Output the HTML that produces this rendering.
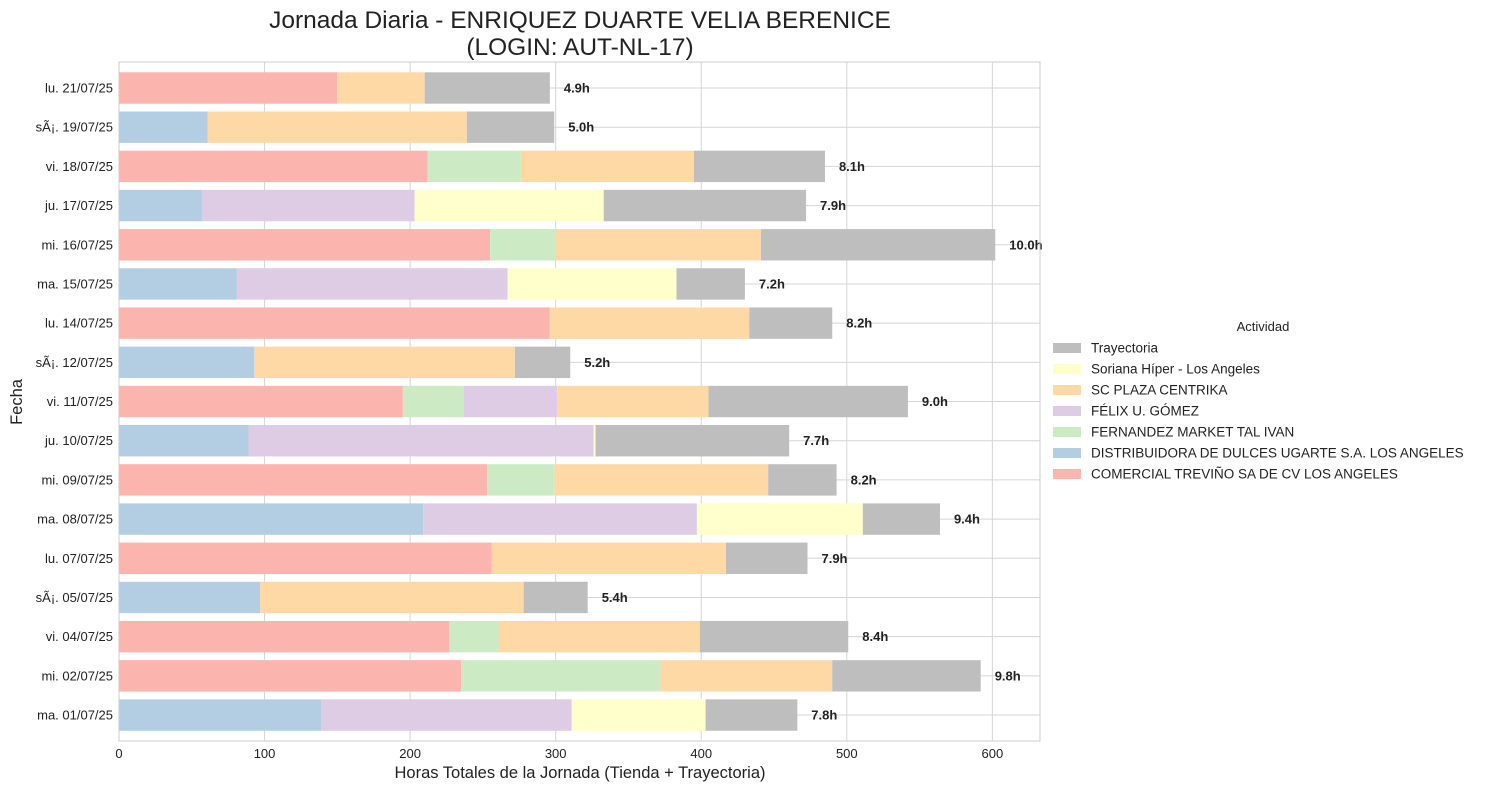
<!DOCTYPE html>
<html><head><meta charset="utf-8"><style>
body{margin:0;background:#fff;}
svg{font-family:"Liberation Sans","DejaVu Sans",sans-serif;}
</style></head><body>
<svg id="chart" width="1489" height="790" xmlns="http://www.w3.org/2000/svg">
<text x="580" y="28" font-size="24.5" text-anchor="middle" fill="#222">Jornada Diaria - ENRIQUEZ DUARTE VELIA BERENICE</text>
<text x="580" y="55" font-size="24.5" text-anchor="middle" fill="#222">(LOGIN: AUT-NL-17)</text>
<g id="grid"></g><g id="bars"></g><g id="axes"></g>
<text x="580" y="778" font-size="16.5" text-anchor="middle" fill="#222">Horas Totales de la Jornada (Tienda + Trayectoria)</text>
<text x="22" y="402" font-size="16.5" text-anchor="middle" fill="#222" transform="rotate(-90 22 402)">Fecha</text>
<g id="legend"></g>
</svg>
<script>
const categories=["lu. 21/07/25","sÃ¡. 19/07/25","vi. 18/07/25","ju. 17/07/25","mi. 16/07/25","ma. 15/07/25","lu. 14/07/25","sÃ¡. 12/07/25","vi. 11/07/25","ju. 10/07/25","mi. 09/07/25","ma. 08/07/25","lu. 07/07/25","sÃ¡. 05/07/25","vi. 04/07/25","mi. 02/07/25","ma. 01/07/25"];
const comercial=[150,0,212,0,255,0,296,0,195,0,253,0,256,0,227,235,0];
const distribuidora=[0,61,0,57,0,81,0,93,0,89,0,209,0,97,0,0,139];
const fernandez=[0,0,64,0,45,0,0,0,42,0,46,0,0,0,34,137,0];
const felix=[0,0,0,146,0,186,0,0,64,237,0,188,0,0,0,0,172];
const scplaza=[60,178,119,0,141,0,137,179,104,0,147,0,161,181,138,118,0];
const soriana=[0,0,0,130,0,116,0,0,0,1.4,0,114,0,0,0,0,92];
const trayectoria=[86,60,90,139,161,47,57,38,137,133,47,53,56,44,102,102,63];
const totalLabels=["4.9h","5.0h","8.1h","7.9h","10.0h","7.2h","8.2h","5.2h","9.0h","7.7h","8.2h","9.4h","7.9h","5.4h","8.4h","9.8h","7.8h"];
const xTicks=[0,100,200,300,400,500,600];
const seriesNames=["COMERCIAL TREVIÑO SA DE CV LOS ANGELES","DISTRIBUIDORA DE DULCES UGARTE S.A. LOS ANGELES","FERNANDEZ MARKET TAL IVAN","FÉLIX U. GÓMEZ","SC PLAZA CENTRIKA","Soriana Híper - Los Angeles","Trayectoria"];
const series=[comercial,distribuidora,fernandez,felix,scplaza,soriana,trayectoria];
const colors=["#fbb4ae","#b3cde3","#ccebc5","#decbe4","#fed9a6","#ffffcc","#bebebe"];
const NS="http://www.w3.org/2000/svg";
const L=119,R=1040,T=62,B=741;
const x=v=>L+v*1.4556;
const y=i=>88+i*39.19;
function mk(tag,attrs,parent){const e=document.createElementNS(NS,tag);for(const k in attrs)e.setAttribute(k,attrs[k]);parent.appendChild(e);return e;}
const grid=document.getElementById('grid'),bars=document.getElementById('bars'),axes=document.getElementById('axes'),leg=document.getElementById('legend');
xTicks.forEach(t=>{
  const g=mk('line',{x1:x(t),x2:x(t),y1:T,y2:B,stroke:'#d5d5d5','stroke-width':1},grid);
  
  
  const tx=mk('text',{x:x(t),y:B+17,'font-size':13,'text-anchor':'middle',fill:'#222'},axes);
  tx.textContent=t;
  
  
});
categories.forEach((c,i)=>{
  const g=mk('line',{x1:L,x2:R,y1:y(i),y2:y(i),stroke:'#d5d5d5','stroke-width':1},grid);
  
  
  const tx=mk('text',{x:L-6,y:y(i)+4.5,'font-size':13,'text-anchor':'end',fill:'#222'},axes);
  tx.textContent=c;
  
  
  let acc=0;
  series.forEach((s,k)=>{
    const v=s[i];
    if(v>0){
      const r=mk('rect',{x:x(acc),y:y(i)-15.7,width:x(acc+v)-x(acc),height:31.4,fill:colors[k]},bars);
      
      
    }
    acc+=v;
  });
  const lb=mk('text',{x:x(acc)+14,y:y(i)+4.5,'font-size':13,'font-weight':'bold',fill:'#222'},bars);
  lb.textContent=totalLabels[i];
  
  
});
const fr=mk('rect',{x:L,y:T,width:R-L,height:B-T,fill:'none',stroke:'#cccccc','stroke-width':1},axes);


const lt=mk('text',{x:1263,y:331,'font-size':13,'text-anchor':'middle',fill:'#222'},leg);
lt.textContent='Actividad';


for(let j=0;j<7;j++){
  const k=6-j, yy=348+j*21;
  const sw=mk('rect',{x:1053,y:yy-5,width:28,height:10,fill:colors[k]},leg);
  
  
  const t=mk('text',{x:1091,y:yy+4.5,'font-size':13.5,fill:'#222'},leg);
  t.textContent=seriesNames[k];
  
  
}
</script>
</body></html>
